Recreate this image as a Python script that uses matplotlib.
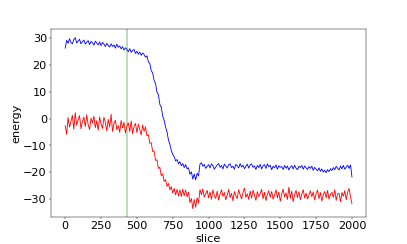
import numpy as np
import matplotlib
matplotlib.use("Agg")
import matplotlib.pyplot as plt

# energy per slice, every 10 slices (0 .. 2000)
slices = np.arange(0, 2001, 10)

blue_energy = [
    26.3, 29.2, 28.1, 29.8, 28.4, 27.9, 29.5, 30.2, 28.2, 28.9,
    29.6, 27.9, 28.7, 29.3, 27.8, 28.5, 29.1, 27.6, 28.8, 28.3,
    27.4, 28.9, 28.2, 27.5, 28.6, 27.2, 28.4, 27.8, 26.9, 28.1,
    27.3, 26.7, 27.9, 26.9, 27.5, 26.3, 27.8, 26.6, 27.1, 26.0,
    26.8, 25.6, 26.4, 25.9, 25.0, 26.1, 24.7, 25.4, 25.8, 24.3,
    25.1, 24.0, 24.8, 23.6, 24.5, 23.9, 22.9, 23.4, 21.2, 20.6,
    17.9, 17.0, 14.2, 13.1, 9.8, 8.9, 5.3, 4.2, 0.9, -0.6,
    -3.2, -4.9, -8.0, -9.6, -11.9, -13.4, -14.2, -15.8, -15.3, -16.9,
    -16.1, -17.6, -16.8, -18.3, -17.2, -18.7, -18.4, -20.8, -19.9, -22.6,
    -20.7, -22.9, -20.4, -21.4,
    -17.0, -16.5, -17.8, -17.1, -18.6, -17.9, -17.2, -18.4, -16.9, -17.6,
    -18.9, -18.1, -17.3, -16.8, -18.2, -17.5, -18.8, -17.0, -17.7, -18.5,
    -17.2, -16.9, -18.3, -17.8, -18.9, -17.1, -17.6, -18.4, -16.8, -18.1,
    -17.4, -18.7, -17.9, -17.0, -18.5, -17.3, -16.9, -18.2, -17.7, -19.0,
    -17.5, -18.3, -17.1, -18.8, -17.6, -17.2, -18.6, -16.9, -18.0, -17.4,
    -19.1, -17.8, -18.4, -17.3, -18.9, -17.6, -18.2, -17.9, -19.0, -17.5,
    -18.6, -17.7, -19.2, -18.1, -17.6, -18.8, -17.4, -18.5, -19.1, -17.8,
    -18.3, -17.5, -18.9, -17.7, -18.4, -19.0, -17.9, -18.6, -17.8, -19.3,
    -18.2, -18.9, -19.5, -18.4, -19.7, -18.8, -20.0, -19.3, -20.2, -19.1,
    -19.8, -18.7, -19.4, -18.3, -19.1, -17.8, -18.6, -19.2, -17.7, -18.8,
    -17.5, -18.9, -18.1, -17.4, -18.6, -17.3,
    -21.8,
]

red_energy = [
    -2.6, -5.9, 0.4, -3.2, -1.1, 1.2, -4.0, 2.2, -2.5, -0.4,
    1.1, -3.8, -1.2, 0.6, -3.0, 1.4, -2.2, -4.1, 0.2, -1.6,
    0.9, -3.4, -0.8, -4.3, 0.6, -2.1, -3.7, 0.5, -1.4, -4.6,
    -0.3, -3.2, 1.6, -4.8, -1.9, -0.6, -4.2, -2.6, -5.1, -0.7,
    -3.5, -1.4, -5.4, -2.8, -1.6, -4.9, -0.9, -5.6, -3.0, -1.8,
    -5.2, -2.1, -4.0, -6.1, -2.4, -4.8, -3.1, -6.4, -6.0, -9.2,
    -9.0, -12.3, -12.1, -15.6, -15.4, -18.6, -18.2, -21.3, -20.6, -23.4,
    -22.8, -25.3, -24.2, -26.6, -25.4, -27.8, -26.1, -28.5, -26.4, -28.9,
    -26.6, -29.1, -26.3, -28.8, -26.7, -29.2, -27.5, -31.4, -29.8, -33.6,
    -30.2, -33.1, -29.6, -31.5,
    -26.5, -28.4, -26.2, -29.3, -28.0, -26.8, -29.6, -27.4, -30.1, -26.6,
    -28.9, -29.8, -27.1, -30.4, -28.2, -26.6, -29.0, -27.6, -30.3, -28.5,
    -26.4, -29.5, -27.9, -30.7, -27.2, -28.8, -29.9, -26.5, -28.4, -30.0,
    -27.6, -25.9, -29.4, -28.1, -30.2, -27.1, -29.7, -26.7, -28.6, -30.5,
    -27.3, -29.1, -28.0, -26.4, -29.9, -27.5, -30.6, -28.3, -26.9, -29.4,
    -27.2, -30.1, -28.6, -26.6, -29.6, -27.4, -30.9, -28.1, -26.3, -29.3,
    -27.7, -30.2, -25.6, -29.8, -27.1, -31.0, -28.4, -26.8, -29.5, -27.3,
    -30.3, -28.2, -26.5, -29.7, -27.8, -30.0, -28.6, -26.9, -29.2, -27.4,
    -30.4, -28.0, -26.7, -29.9, -27.6, -30.8, -28.5, -27.2, -29.6, -26.8,
    -30.1, -28.3, -27.5, -29.4, -26.6, -30.5, -28.1, -27.9, -31.1, -27.6,
    -29.0, -26.9, -30.3, -27.4, -26.1, -29.3,
    -31.8,
]

marker_slice = 430

plt.rcParams['font.size'] = 20

fig = plt.figure(figsize=(10, 6), dpi=40.7)
plt.plot(slices, blue_energy, 'b')
plt.plot(slices, red_energy, 'r')
plt.axvline(marker_slice, color='g', alpha=0.3, lw=3)

plt.xlabel('slice')
plt.ylabel('energy')
plt.xticks(list(range(0, 2001, 250)))

plt.savefig('out.png', dpi=40.7)
